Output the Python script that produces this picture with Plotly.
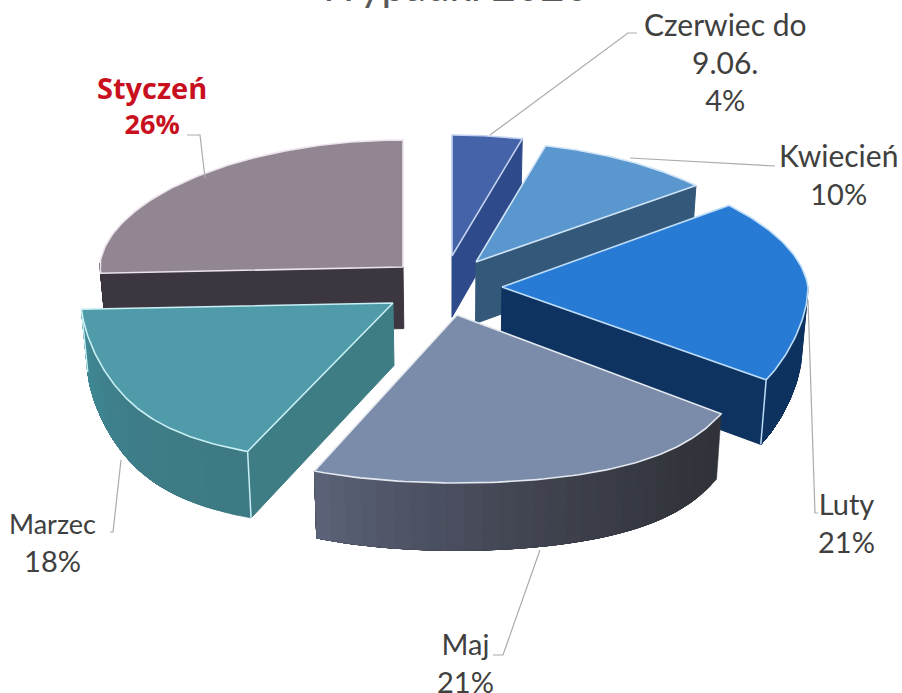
import math
import plotly.graph_objects as go

# ---- data ----
months = ["Czerwiec do<br>9.06.", "Kwiecień", "Luty", "Maj", "Marzec", "Styczeń"]
shares = [4, 10, 21, 21, 18, 26]

# ---- styling (per slice, same order as data) ----
top_colors = ["#4463a8", "#5b97cf", "#287bd4", "#7b8cab", "#509ba9", "#938693"]
edge_colors = ["#c4d2f0", "#cfe4f7", "#bcdcf8", "#e4e8ef", "#c8f0f4", "#ece4ec"]
cut_colors = ["#2f4a8a", "#33587a", "#0e3360", "#33353d", "#3f7d84", "#3c3640"]
wall_left = ["#2f4a8a", "#33587a", "#0e3360", "#5c6379", "#3f8a96", "#3c3640"]
wall_right = ["#2f4a8a", "#33587a", "#0e3360", "#31333a", "#3e7a84", "#3c3640"]
# pie explosion: screen position of every slice's apex, and per-slice projection tweaks
apex_x = [452, 476, 502, 457, 393, 403]
apex_y = [256, 262, 287, 315, 303, 267]
rx_scale = [0.98, 0.97, 1.0, 1.0, 1.02, 0.99]
ry_back = [121, 120, 128, 124, 124, 127]
ry_front = [160, 160, 158, 168, 160, 160]
draw_order = [0, 5, 1, 2, 4, 3]

RX = 306


def rim(i, deg):
    t = math.radians(deg)
    s, c = math.sin(t), math.cos(t)
    r = RX * rx_scale[i]
    if c < 0:
        x = r * s * (1 + 0.33 * (-c) ** 3)
        y = -ry_front[i] * c
    else:
        x = r * s * (1 - 0.06 * c)
        y = -ry_back[i] * c
    if s < 0:
        y -= 4 * (1 - abs(c))
    return apex_x[i] + x, apex_y[i] + y


def drop(x, y):
    return x + (450 - x) * 0.017, y + 58 + (y - 135) * 0.027


def hex_mix(a, b, f):
    ca = [int(a[i:i + 2], 16) for i in (1, 3, 5)]
    cb = [int(b[i:i + 2], 16) for i in (1, 3, 5)]
    return "#" + "".join(f"{round(p + (q - p) * f):02x}" for p, q in zip(ca, cb))


fig = go.Figure()


def poly(xs, ys, fill, line=None, width=1.0):
    fig.add_trace(go.Scatter(
        x=list(xs) + [xs[0]], y=list(ys) + [ys[0]], mode="lines", fill="toself",
        fillcolor=fill, line=dict(color=line or fill, width=width),
        hoverinfo="skip", showlegend=False))


total = sum(shares)
starts, run = [], 0
for v in shares:
    starts.append(run / total * 360)
    run += v

for i in draw_order:
    a0 = starts[i]
    a1 = a0 + shares[i] / total * 360
    ax, ay = apex_x[i], apex_y[i]
    bax, bay = drop(ax, ay)

    # flat cut faces
    for ang, visible in ((a0, a0 > 180), (a1, a1 < 180)):
        if visible:
            px, py = rim(i, ang)
            qx, qy = drop(px, py)
            poly([ax, px, qx, bax], [ay, py, qy, bay], cut_colors[i])

    # curved outer wall: overlapping polygons give the shading without seams
    lo, hi = max(a0, 90), min(a1, 270)
    n = 30
    if hi > lo:
        for k in range(n):
            d0 = lo + (hi - lo) * k / n
            arc = [rim(i, d0 + (hi - d0) * m / 40) for m in range(41)]
            low = [drop(*p) for p in arc][::-1]
            col = hex_mix(wall_right[i], wall_left[i], ((k + 0.5) / n) ** 1.8)
            poly([p[0] for p in arc + low], [p[1] for p in arc + low], col, width=0.5)

    # vertical highlight at visible front corner
    for ang in (a0, a1):
        if 90 < ang < 270 and i in (2, 4):
            px, py = rim(i, ang)
            qx, qy = drop(px, py)
            fig.add_trace(go.Scatter(x=[px, qx], y=[py, qy], mode="lines",
                                     line=dict(color=edge_colors[i], width=1.5),
                                     hoverinfo="skip", showlegend=False))

    # top face
    steps = 80
    pts = [rim(i, a0 + (a1 - a0) * k / steps) for k in range(steps + 1)]
    poly([ax] + [p[0] for p in pts], [ay] + [p[1] for p in pts],
         top_colors[i], edge_colors[i], 1.6)

# leader lines
leader_x = [[490, 628, 637], [630, 775], [808, 815, 818], [540, 503, 493], [121, 113, 110], [205, 200, 187]]
leader_y = [[135, 33, 33], [158, 166], [300, 513, 513], [550, 655, 655], [460, 532, 532], [178, 135, 135]]
for lx, ly in zip(leader_x, leader_y):
    fig.add_trace(go.Scatter(x=lx, y=ly, mode="lines", line=dict(color="#ababab", width=1.2),
                             hoverinfo="skip", showlegend=False))

# labels
FONT = "Lato"
TXT = "#404040"
label_x = [725, 838, 846, 465, 52, 152]
label_y = [61, 174, 522, 662, 542, 105]
name_size = [30, 30, 29, 29, 27, 29]
for i in range(len(months)):
    red = months[i] == "Styczeń"
    text = f'<span style="font-size:{name_size[i]}px">{months[i]}</span><br>{shares[i]}%'
    if red:
        text = f"<b>{text}</b>"
    fig.add_annotation(x=label_x[i], y=label_y[i], text=text, showarrow=False, align="center",
                       font=dict(family="Open Sans" if red else FONT, size=27 if red else 29,
                                 color="#c8101e" if red else TXT))

fig.add_annotation(x=453, y=0, yshift=15, text="Wypadki 2020", showarrow=False,
                   font=dict(family=FONT, size=42, color="#595959"))

fig.update_layout(
    width=902, height=693, margin=dict(l=0, r=0, t=0, b=0),
    paper_bgcolor="white", plot_bgcolor="white", showlegend=False,
    xaxis=dict(range=[0, 902], visible=False, fixedrange=True),
    yaxis=dict(range=[693, 0], visible=False, fixedrange=True),
)
fig.write_html("out.html", config={"displayModeBar": False},
               post_script="document.body.style.margin='0';document.body.style.overflow='hidden';")
